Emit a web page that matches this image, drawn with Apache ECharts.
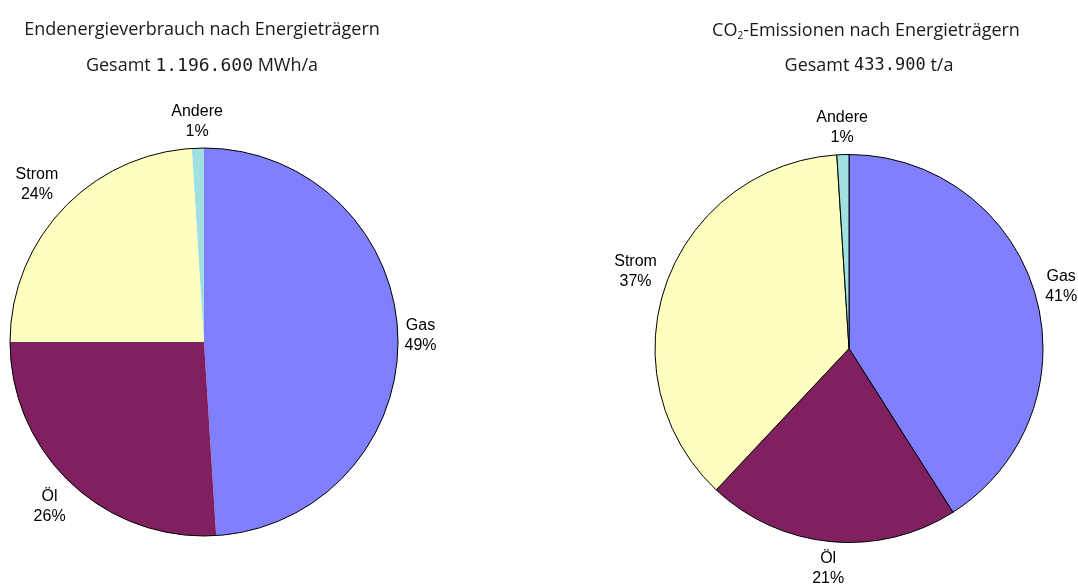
<!DOCTYPE html>
<html><head><meta charset="utf-8">
<script src="https://cdn.jsdelivr.net/npm/echarts@6/dist/echarts.min.js"></script>
<style>html,body{margin:0;padding:0;background:#fff}#chart{width:1078px;height:585px}</style>
</head><body><div id="chart"></div>
<script>
// Energy carriers and their shares (percent)
const categories = ['Gas', 'Öl', 'Strom', 'Andere'];
const energyShares = [49, 26, 24, 1];
const co2Shares = [41, 21, 37, 1];
const sliceColors = ['#8080FF', '#802060', '#FFFFC0', '#A0E0E0'];

const energyTitle = 'Endenergieverbrauch nach Energieträgern';
const energyTotal = 'Gesamt {numL|1.196.600} MWh/a';
const co2Title = 'CO{sub|2}-Emissionen nach Energieträgern';
const co2Total = 'Gesamt {numR|433.900} t/a';

const RADIUS = 194;
const LABEL_GAP = 6;
const LABEL_FONT = 16;
const LABEL_LINE = 20;
const pieLayouts = [
  { center: [204, 342], values: energyShares },
  { center: [849, 348.5], values: co2Shares }
];

// Width of a label block, measured with the label font
const measureCtx = document.createElement('canvas').getContext('2d');
measureCtx.font = LABEL_FONT + 'px "Liberation Sans", Arial, sans-serif';
function labelSize(lines) {
  const w = Math.max.apply(null, lines.map(s => measureCtx.measureText(s).width));
  return [w, lines.length * LABEL_LINE];
}

// Place each label just outside the slice, centred on the bisector of the slice
function labelPlacer(k) {
  const pie = pieLayouts[k];
  const total = pie.values.reduce((a, b) => a + b, 0);
  return function (params) {
    const i = params.dataIndex;
    let before = 0;
    for (let j = 0; j < i; j++) before += pie.values[j];
    const a = (before + pie.values[i] / 2) / total * Math.PI * 2;
    const ux = Math.sin(a), uy = -Math.cos(a);
    const size = labelSize([categories[i], pie.values[i] + '%']);
    const d = RADIUS + LABEL_GAP + Math.abs(ux) * size[0] / 2 + Math.abs(uy) * size[1] / 2;
    return {
      x: pie.center[0] + ux * d,
      y: pie.center[1] + uy * d,
      align: 'center',
      verticalAlign: 'middle'
    };
  };
}

function pieData(values) {
  return categories.map((name, i) => ({
    name: name,
    value: values[i],
    itemStyle: { color: sliceColors[i] }
  }));
}

const labelStyle = {
  show: true,
  position: 'outside',
  alignTo: 'none',
  overflow: 'none',
  bleedMargin: 0,
  fontFamily: '"Liberation Sans", Arial, sans-serif',
  fontSize: LABEL_FONT,
  lineHeight: LABEL_LINE,
  color: '#000',
  formatter: p => p.name + '\n' + p.value + '%'
};

const TITLE_FAMILY = '"Open Sans", Lato, sans-serif';
const TITLE_COLOR = '#1a1a1a';
const titleFont = {
  fontFamily: TITLE_FAMILY, fontSize: 18, fontWeight: 'normal', color: TITLE_COLOR,
  rich: {
    sub: { fontFamily: TITLE_FAMILY, fontSize: 10, color: TITLE_COLOR, padding: [10, 0, 0, 0] },
    numL: { fontFamily: '"DejaVu Sans Mono", monospace', fontSize: 18, color: TITLE_COLOR },
    numR: { fontFamily: '"DejaVu Sans Mono", monospace', fontSize: 17, color: TITLE_COLOR }
  }
};

const chart = echarts.init(document.getElementById('chart'), null, { renderer: 'canvas' });
chart.setOption({
  animation: false,
  backgroundColor: '#fff',
  title: [
    { text: energyTitle, left: 202, top: 21, padding: 0, textAlign: 'center', textStyle: titleFont },
    { text: energyTotal, left: 202, top: 57, padding: 0, textAlign: 'center', textStyle: titleFont },
    { text: co2Title, left: 866, top: 21, padding: 0, textAlign: 'center', textStyle: titleFont },
    { text: co2Total, left: 869, top: 57, padding: 0, textAlign: 'center', textStyle: titleFont }
  ],
  series: [
    {
      type: 'pie',
      center: pieLayouts[0].center,
      radius: RADIUS,
      startAngle: 90,
      clockwise: true,
      silent: true,
      avoidLabelOverlap: false,
      data: pieData(energyShares),
      itemStyle: { borderWidth: 0 },
      label: labelStyle,
      labelLine: { show: false },
      labelLayout: labelPlacer(0)
    },
    {
      type: 'pie',
      center: pieLayouts[1].center,
      radius: RADIUS,
      startAngle: 90,
      clockwise: true,
      silent: true,
      avoidLabelOverlap: false,
      data: pieData(co2Shares),
      itemStyle: { borderColor: '#000', borderWidth: 1 },
      label: labelStyle,
      labelLine: { show: false },
      labelLayout: labelPlacer(1)
    },
    {
      // outline of the energy pie
      type: 'pie',
      center: pieLayouts[0].center,
      radius: RADIUS,
      silent: true,
      data: [{ value: 1, name: '' }],
      itemStyle: { color: 'rgba(0,0,0,0)', borderColor: '#000', borderWidth: 1 },
      label: { show: false },
      labelLine: { show: false }
    }
  ]
});
</script>
</body></html>
